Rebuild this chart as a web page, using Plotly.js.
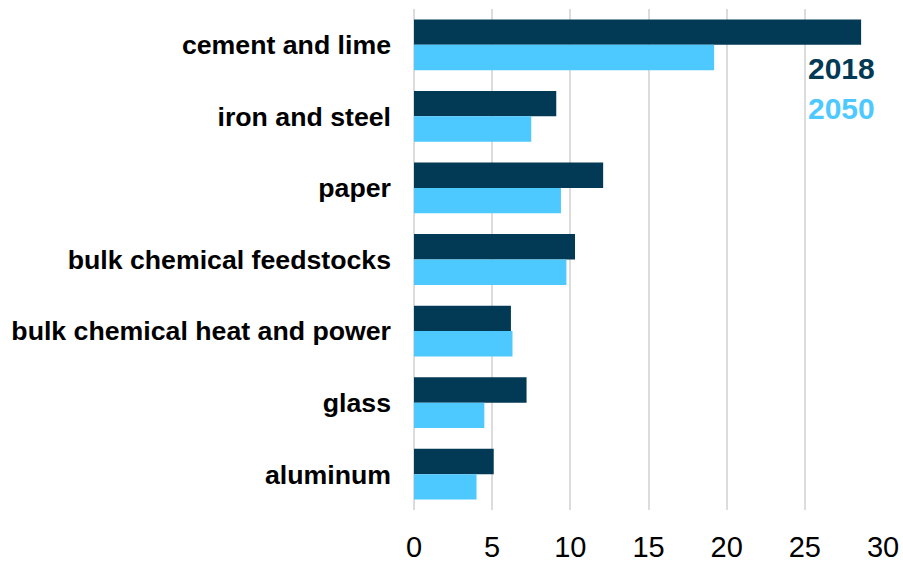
<!DOCTYPE html>
<html>
<head>
<meta charset="utf-8">
<script src="https://cdn.plot.ly/plotly-3.0.1.min.js"></script>
<style>html,body{margin:0;padding:0;background:#fff;}#chart{width:903px;height:562px;}</style>
</head>
<body>
<div id="chart"></div>
<script>
const categories = ["cement and lime", "iron and steel", "paper", "bulk chemical feedstocks", "bulk chemical heat and power", "glass", "aluminum"];
const values2018 = [28.6, 9.1, 12.1, 10.3, 6.2, 7.2, 5.1];
const values2050 = [19.2, 7.5, 9.4, 9.75, 6.3, 4.5, 4.0];
const seriesNames = ["2018", "2050"];
const xTicks = [0, 5, 10, 15, 20, 25, 30];

const darkColor = "#023A55";
const lightColor = "#4DC9FF";
const fontFamily = "Liberation Sans, Arial, sans-serif";

const traces = [
  {type: "bar", orientation: "h", name: seriesNames[0], y: categories, x: values2018,
   marker: {color: darkColor}, hoverinfo: "x+y"},
  {type: "bar", orientation: "h", name: seriesNames[1], y: categories, x: values2050,
   marker: {color: lightColor}, hoverinfo: "x+y"}
];

const layout = {
  width: 903, height: 562,
  margin: {l: 414, r: 20, t: 9, b: 52, pad: 0},
  paper_bgcolor: "#ffffff", plot_bgcolor: "#ffffff",
  barmode: "group", bargap: 0.29, bargroupgap: 0,
  showlegend: false,
  font: {family: fontFamily, color: "#000000"},
  xaxis: {
    range: [0, 30], tickvals: xTicks, ticktext: xTicks.map(String),
    showgrid: true, gridcolor: "#dcdcdc", gridwidth: 2,
    zeroline: true, zerolinecolor: "#dcdcdc", zerolinewidth: 2,
    showline: false, ticks: "", ticklabelstandoff: 17,
    tickfont: {family: fontFamily, size: 29, color: "#000000"},
    fixedrange: true
  },
  yaxis: {
    autorange: "reversed", showgrid: false, zeroline: false, showline: false,
    ticks: "", ticklabelstandoff: 22,
    tickfont: {family: fontFamily, size: 26.7, color: "#000000", weight: "bold"},
    fixedrange: true
  },
  annotations: [
    {xref: "paper", yref: "paper", x: 0.9875, y: (510 - 69) / 501, xanchor: "right", yanchor: "middle",
     text: "<b>" + seriesNames[0] + "</b>", showarrow: false,
     font: {family: fontFamily, size: 30, color: darkColor}},
    {xref: "paper", yref: "paper", x: 0.9875, y: (510 - 108) / 501, xanchor: "right", yanchor: "middle",
     text: "<b>" + seriesNames[1] + "</b>", showarrow: false,
     font: {family: fontFamily, size: 30, color: lightColor}}
  ]
};

Plotly.newPlot("chart", traces, layout, {displayModeBar: false, staticPlot: true});
</script>
</body>
</html>
